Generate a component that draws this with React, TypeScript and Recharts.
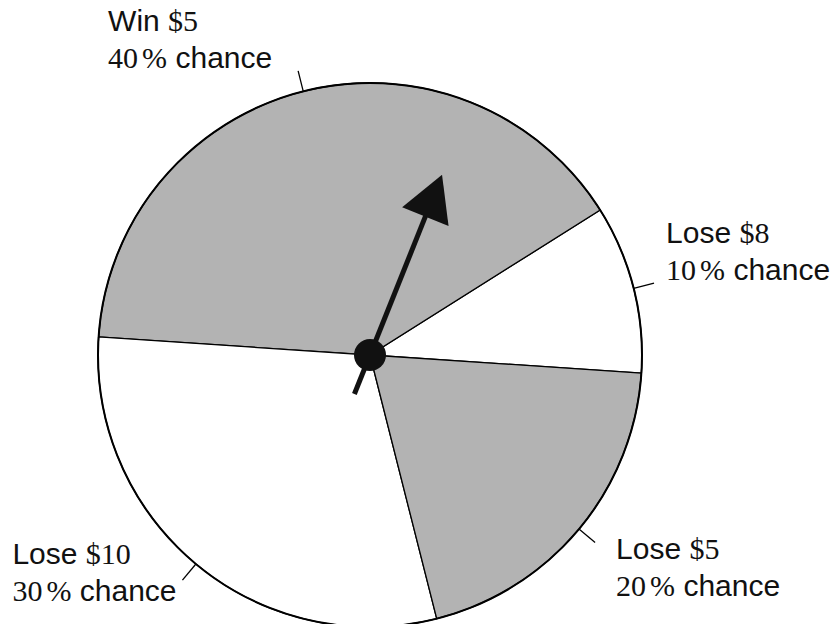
import React from "react";
import { PieChart, Pie, Cell } from "recharts";

// spinner outcomes, listed counter-clockwise from just below 3 o'clock
const outcomes = ["Lose", "Win", "Lose", "Lose"];
const amounts = [8, 5, 10, 5];
const chances = [10, 40, 30, 20];

const sliceFills = ["#ffffff", "#b3b3b3", "#ffffff", "#b3b3b3"];

const data = outcomes.map((outcome, i) => ({
  name: `${outcome} $${amounts[i]}`,
  outcome,
  amount: amounts[i],
  value: chances[i],
}));

const CX = 370;
const CY = 355;
const R = 272;
const RAD = Math.PI / 180;
const SANS = "'Liberation Sans', Arial, sans-serif";
const SERIF = "'Liberation Serif', 'Times New Roman', serif";

const renderLabel = (props: any) => {
  const { cx, cy, midAngle, outerRadius, index } = props;
  const d = data[index];
  const cos = Math.cos(-midAngle * RAD);
  const sin = Math.sin(-midAngle * RAD);
  const sx = cx + outerRadius * cos;
  const sy = cy + outerRadius * sin;
  const ex = cx + (outerRadius + 21) * cos;
  const ey = cy + (outerRadius + 21) * sin;

  let tx: number;
  let ty: number;
  if (sin < -0.7) {
    tx = ex - 190;
    ty = ey - 40;
  } else if (cos >= 0 && sin <= 0) {
    tx = ex + 12;
    ty = ey - 40;
  } else if (cos >= 0) {
    tx = ex + 21;
    ty = ey + 16;
  } else {
    tx = ex - 170;
    ty = ey - 16;
  }

  return (
    <g key={`label-${index}`}>
      <line x1={sx} y1={sy} x2={ex} y2={ey} stroke="#000" strokeWidth={1.3} />
      <text x={tx} y={ty} fontSize={30} fill="#111" style={{ whiteSpace: "pre" }}>
        <tspan fontFamily={SANS}>{d.outcome + " "}</tspan>
        <tspan fontFamily={SERIF}>{"$" + d.amount}</tspan>
      </text>
      <text x={tx} y={ty + 37} fontSize={30} fill="#111" style={{ whiteSpace: "pre" }}>
        <tspan fontFamily={SERIF}>{String(d.value)}</tspan>
        <tspan fontFamily={SERIF} dx={4}>%</tspan>
        <tspan fontFamily={SANS}>{" chance"}</tspan>
      </text>
    </g>
  );
};

const Pointer = () => {
  const a = 68.2 * RAD;
  const ux = Math.cos(a);
  const uy = -Math.sin(a);
  const px = -uy;
  const py = ux;
  const tip = [CX + 194 * ux, CY + 194 * uy];
  const base = [tip[0] - 45 * ux, tip[1] - 45 * uy];
  const tail = [CX - 42 * ux, CY - 42 * uy];
  const head = [
    `${tip[0]},${tip[1]}`,
    `${base[0] + 25 * px},${base[1] + 25 * py}`,
    `${base[0] - 25 * px},${base[1] - 25 * py}`,
  ].join(" ");
  return (
    <svg
      width={834}
      height={624}
      style={{ position: "absolute", left: 0, top: 0, pointerEvents: "none" }}
    >
      <line
        x1={tail[0]}
        y1={tail[1]}
        x2={base[0] + 4 * ux}
        y2={base[1] + 4 * uy}
        stroke="#111"
        strokeWidth={5}
      />
      <polygon points={head} fill="#111" />
      <circle cx={CX} cy={CY} r={16} fill="#111" />
      {/* slightly heavier rim, as in the original drawing */}
      <circle cx={CX} cy={CY} r={R} fill="none" stroke="#000" strokeWidth={2} />
    </svg>
  );
};

const App = () => {
  return (
    <div
      style={{
        position: "absolute",
        left: 0,
        top: 0,
        width: 834,
        height: 624,
        background: "#fff",
        overflow: "hidden",
      }}
    >
      <PieChart width={834} height={624} margin={{ top: 0, right: 0, bottom: 0, left: 0 }}>
        <Pie
          data={data}
          dataKey="value"
          nameKey="name"
          cx={CX}
          cy={CY}
          outerRadius={R}
          startAngle={-3.8}
          endAngle={356.2}
          stroke="#000"
          strokeWidth={1.3}
          label={renderLabel}
          labelLine={false}
          isAnimationActive={false}
        >
          {data.map((d, i) => (
            <Cell key={d.name + i} fill={sliceFills[i]} />
          ))}
        </Pie>
      </PieChart>
      <Pointer />
    </div>
  );
};

export default App;
